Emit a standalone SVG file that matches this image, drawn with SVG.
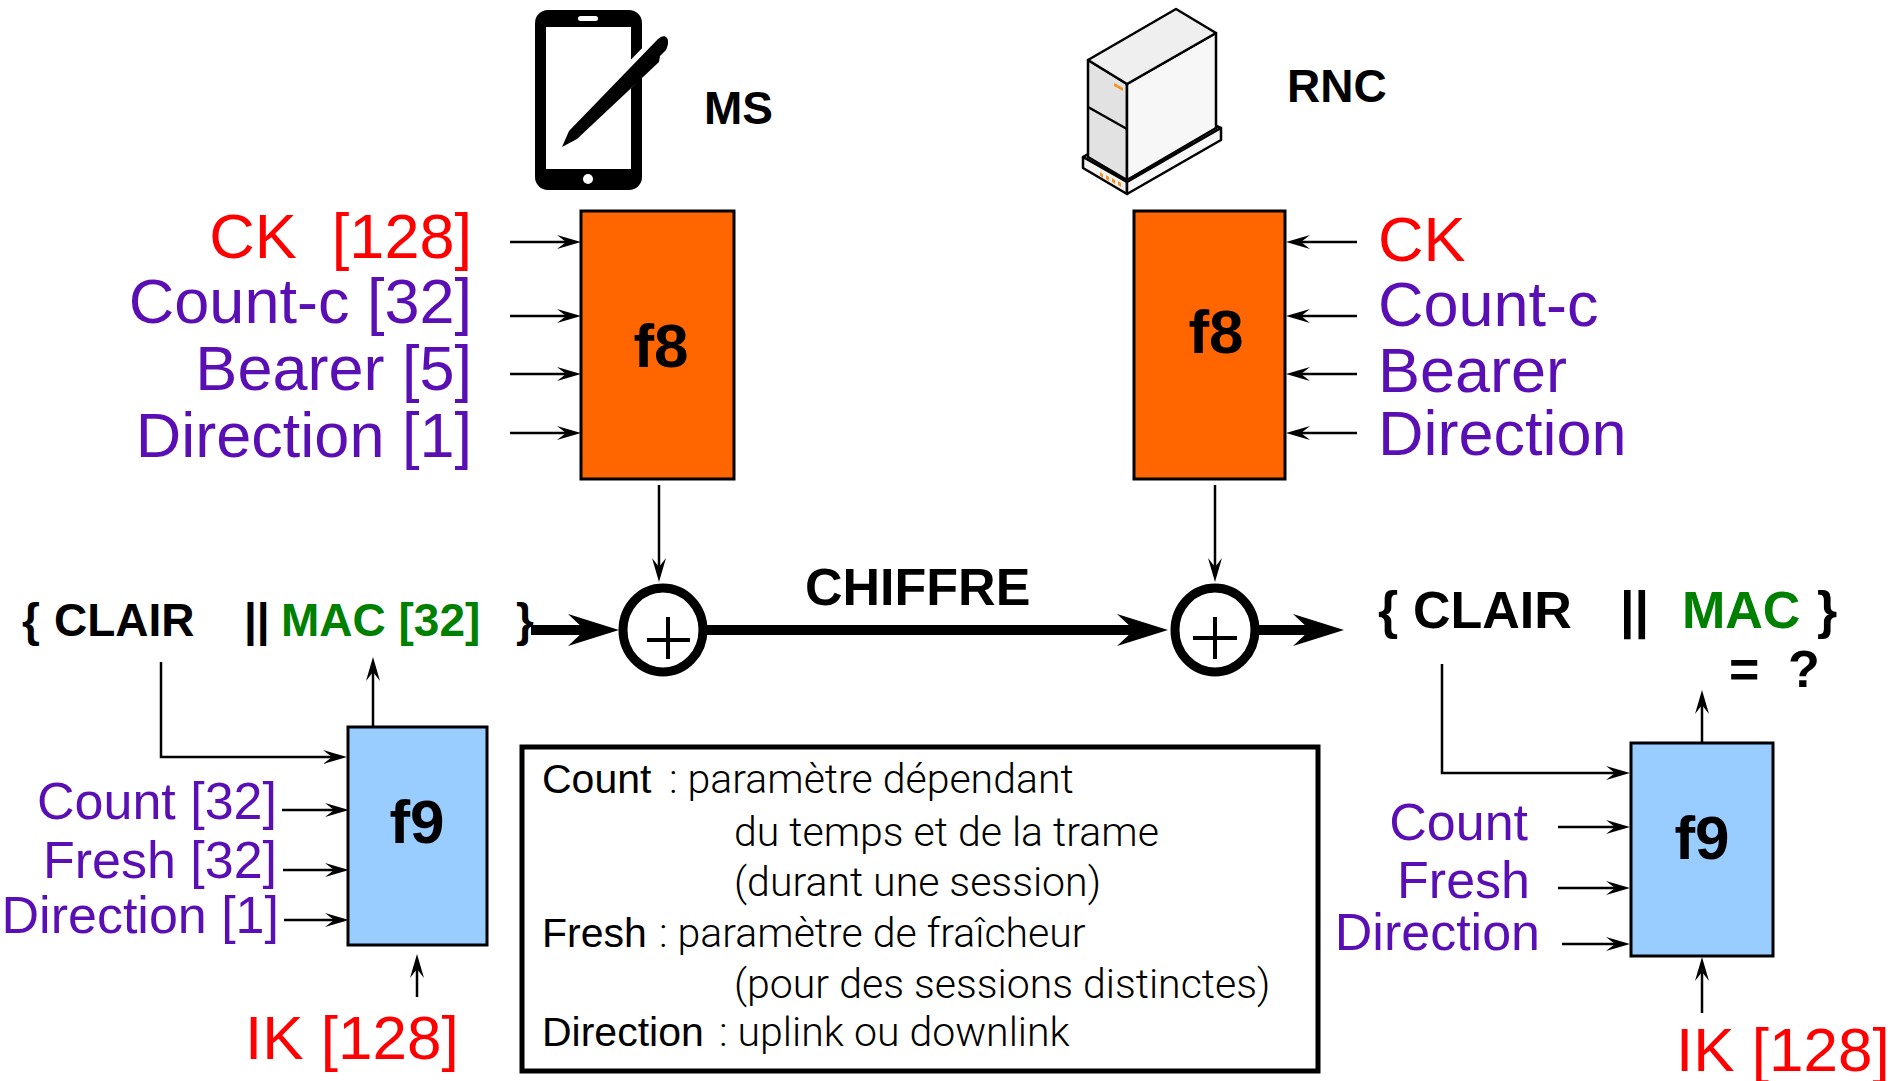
<svg xmlns="http://www.w3.org/2000/svg" width="1895" height="1081" viewBox="0 0 1895 1081">
  <style>
    text { font-family: "Liberation Sans", Arial, Helvetica, sans-serif; white-space: pre; }
    .b { font-weight: bold; fill: #000; }
    .lab { font-size: 63px; }
    .lab2 { font-size: 52px; }
    .pur { fill: #5a0fb4; }
    .red { fill: #ff0000; }
    .grn { fill: #008000; }
    .f8 { fill: #ff6600; stroke: #000; stroke-width: 3; }
    .f9 { fill: #99ccff; stroke: #000; stroke-width: 3; }
    .fn { font-size: 62px; font-weight: bold; text-anchor: middle; fill: #000; }
    .thin { fill: none; stroke: #000; stroke-width: 2.5; marker-end: url(#ah); }
    .thick { fill: none; stroke: #000; stroke-width: 10; marker-end: url(#ahb); }
    .xor { fill: #fff; stroke: #000; stroke-width: 9; }
    .plus { stroke: #000; stroke-width: 4; }
    .leg { font-size: 41px; fill: #000; }
    .legd { font-family: Roboto, "Liberation Sans", sans-serif; font-weight: 300; }
    .srv { stroke: #000; stroke-width: 2.5; stroke-linejoin: round; }
  </style>
  <defs>
    <marker id="ah" markerUnits="userSpaceOnUse" viewBox="0 0 24 14" markerWidth="24" markerHeight="14" refX="16" refY="7" orient="auto">
      <path d="M0,0 L24,7 L0,14 L9,7 z" fill="#000"/>
    </marker>
    <marker id="ahb" markerUnits="userSpaceOnUse" viewBox="0 0 51 32" markerWidth="51" markerHeight="32" refX="21" refY="16" orient="auto">
      <path d="M0,0 L51,16 L0,32 L17,16 z" fill="#000"/>
    </marker>
  </defs>
  <rect width="1895" height="1081" fill="#fff"/>

  <!-- mobile station icon -->
  <g id="ms">
    <rect x="535" y="10" width="107" height="180" rx="13" fill="#000"/>
    <rect x="546" y="27" width="85" height="142" fill="#fff"/>
    <rect x="578" y="16" width="20" height="5" rx="2.5" fill="#fff"/>
    <circle cx="588" cy="179" r="5" fill="#fff"/>
    <line x1="598" y1="108" x2="662" y2="42" stroke="#fff" stroke-width="20"/>
    <path d="M562,147 L569,131 L658,39 C661,36 665,35 667,38 C669,41 668,46 666,50 L660,56 L659,62 L577,139 Z" fill="#000"/>
    <text x="704" y="124" class="b" font-size="46">MS</text>
  </g>

  <!-- radio network controller icon -->
  <g id="rnc">
    <polygon class="srv" points="1083,157 1172,106 1221,128 1127,182" fill="#e6e6e6"/>
    <polygon class="srv" points="1083,157 1127,182 1127,194 1083,168" fill="#f2f2f2"/>
    <polygon class="srv" points="1127,182 1221,128 1221,140 1127,194" fill="#f7f7f7"/>
    <polygon class="srv" points="1088,60 1127,84 1127,180 1088,157" fill="#e2e2e2"/>
    <polygon class="srv" points="1127,84 1216,33 1216,128 1127,180" fill="#f7f7f7"/>
    <polygon class="srv" points="1088,60 1176,9 1216,33 1127,84" fill="#efefef"/>
    <line class="srv" x1="1088" y1="107" x2="1127" y2="129"/>
    <polygon points="1114,83 1123,88 1123,91 1114,86" fill="#f7931e"/>
    <g fill="#f7931e">
      <polygon points="1100,172 1103,174 1103,178 1100,176"/>
      <polygon points="1106,175 1109,177 1109,181 1106,179"/>
      <polygon points="1112,178 1115,180 1115,184 1112,182"/>
      <polygon points="1118,181 1121,183 1121,187 1118,185"/>
    </g>
    <text x="1287" y="102" class="b" font-size="46">RNC</text>
  </g>

  <!-- f8 on the mobile side -->
  <g id="f8-ms">
    <rect class="f8" x="581" y="211" width="153" height="268"/>
    <text class="fn" x="661" y="367">f8</text>
  </g>
  <g id="f8-ms-inputs">
    <text class="lab red" x="472" y="258" text-anchor="end" xml:space="preserve">CK  [128]</text>
    <text class="lab pur" x="472" y="323" text-anchor="end">Count-c [32]</text>
    <text class="lab pur" x="472" y="390" text-anchor="end">Bearer [5]</text>
    <text class="lab pur" x="472" y="457" text-anchor="end">Direction [1]</text>
  </g>

  <!-- f8 on the network side -->
  <g id="f8-rnc">
    <rect class="f8" x="1134" y="211" width="151" height="268"/>
    <text class="fn" x="1216" y="353">f8</text>
  </g>
  <g id="f8-rnc-inputs">
    <text class="lab red" x="1378" y="261">CK</text>
    <text class="lab pur" x="1378" y="326">Count-c</text>
    <text class="lab pur" x="1378" y="392">Bearer</text>
    <text class="lab pur" x="1378" y="455">Direction</text>
  </g>

  <!-- XOR operators -->
  <g id="xor-ms">
    <ellipse class="xor" cx="663" cy="630" rx="40" ry="42"/>
    <line class="plus" x1="647" y1="640" x2="690" y2="640"/>
    <line class="plus" x1="668" y1="617" x2="668" y2="659"/>
  </g>
  <g id="xor-rnc">
    <ellipse class="xor" cx="1215" cy="630" rx="40" ry="42"/>
    <line class="plus" x1="1193" y1="638" x2="1237" y2="638"/>
    <line class="plus" x1="1215" y1="617" x2="1215" y2="659"/>
  </g>

  <!-- message frames -->
  <g id="msg-ms" class="b" font-size="46">
    <text x="22" y="636">{</text>
    <text x="54" y="636">CLAIR</text>
    <text x="244" y="636">||</text>
    <text x="281" y="636" class="grn">MAC [32]</text>
    <text x="516" y="636">}</text>
  </g>
  <text id="chiffre" x="805" y="605" class="b" font-size="52">CHIFFRE</text>
  <g id="msg-rnc" class="b" font-size="52">
    <text x="1378" y="628">{</text>
    <text x="1413" y="628">CLAIR</text>
    <text x="1620" y="628">||</text>
    <text x="1682" y="628" class="grn">MAC</text>
    <text x="1817" y="628">}</text>
    <text x="1729" y="687">=</text>
    <text x="1788" y="687">?</text>
  </g>

  <!-- f9 on the mobile side -->
  <g id="f9-ms">
    <rect class="f9" x="348" y="727" width="139" height="218"/>
    <text class="fn" x="417" y="843">f9</text>
  </g>
  <g id="f9-ms-inputs">
    <text class="lab2 pur" x="277" y="819" text-anchor="end">Count [32]</text>
    <text class="lab2 pur" x="277" y="878" text-anchor="end">Fresh [32]</text>
    <text class="lab2 pur" x="279" y="933" text-anchor="end">Direction [1]</text>
    <text class="red" x="245" y="1059" font-size="62">IK [128]</text>
  </g>

  <!-- f9 on the network side -->
  <g id="f9-rnc">
    <rect class="f9" x="1631" y="743" width="142" height="213"/>
    <text class="fn" x="1702" y="859">f9</text>
  </g>
  <g id="f9-rnc-inputs">
    <text class="lab2 pur" x="1528" y="840" text-anchor="end">Count</text>
    <text class="lab2 pur" x="1530" y="898" text-anchor="end">Fresh</text>
    <text class="lab2 pur" x="1540" y="950" text-anchor="end">Direction</text>
    <text class="red" x="1676" y="1071" font-size="62">IK [128]</text>
  </g>

  <!-- legend -->
  <g id="legend">
    <rect x="522" y="747" width="796" height="324" fill="#fff" stroke="#000" stroke-width="5"/>
    <text class="leg" x="542" y="793">Count<tspan class="legd" x="659"> : paramètre dépendant</tspan></text>
    <text class="leg legd" x="734" y="846">du temps et de la trame</text>
    <text class="leg legd" x="734" y="896">(durant une session)</text>
    <text class="leg" x="542" y="947">Fresh<tspan class="legd" x="649"> : paramètre de fraîcheur</tspan></text>
    <text class="leg legd" x="734" y="998">(pour des sessions distinctes)</text>
    <text class="leg" x="542" y="1046">Direction<tspan class="legd" x="709"> : uplink ou downlink</tspan></text>
  </g>

  <!-- connectors -->
  <g id="connectors">
    <line class="thin" x1="510" y1="242" x2="573" y2="242"/>
    <line class="thin" x1="510" y1="316" x2="573" y2="316"/>
    <line class="thin" x1="510" y1="374" x2="573" y2="374"/>
    <line class="thin" x1="510" y1="433" x2="573" y2="433"/>

    <line class="thin" x1="1357" y1="242" x2="1294" y2="242"/>
    <line class="thin" x1="1357" y1="316" x2="1294" y2="316"/>
    <line class="thin" x1="1357" y1="374" x2="1294" y2="374"/>
    <line class="thin" x1="1357" y1="433" x2="1294" y2="433"/>

    <line class="thin" x1="659" y1="485" x2="659" y2="574"/>
    <line class="thin" x1="1215" y1="485" x2="1215" y2="574"/>

    <line class="thick" x1="531" y1="630" x2="589" y2="630"/>
    <line class="thick" x1="707" y1="630" x2="1138" y2="630"/>
    <line class="thick" x1="1259" y1="630" x2="1314" y2="630"/>

    <polyline class="thin" points="161,662 161,757 339,757"/>
    <line class="thin" x1="373" y1="727" x2="373" y2="665"/>
    <line class="thin" x1="282" y1="810" x2="341" y2="810"/>
    <line class="thin" x1="283" y1="870" x2="341" y2="870"/>
    <line class="thin" x1="284" y1="920" x2="341" y2="920"/>
    <line class="thin" x1="417" y1="997" x2="417" y2="962"/>

    <polyline class="thin" points="1442,664 1442,773 1622,773"/>
    <line class="thin" x1="1702" y1="743" x2="1702" y2="698"/>
    <line class="thin" x1="1558" y1="827" x2="1622" y2="827"/>
    <line class="thin" x1="1558" y1="888" x2="1622" y2="888"/>
    <line class="thin" x1="1562" y1="944" x2="1622" y2="944"/>
    <line class="thin" x1="1702" y1="1013" x2="1702" y2="965"/>
  </g>
</svg>
